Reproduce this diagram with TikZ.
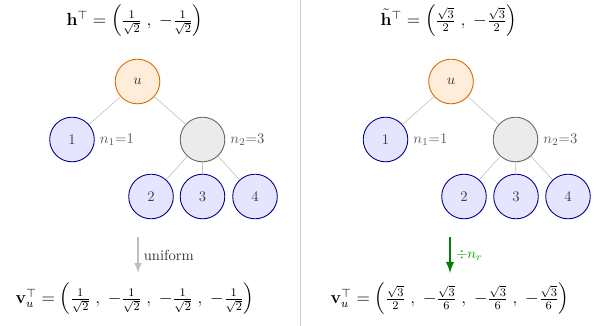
\documentclass[tikz,border=0pt]{standalone}
\usepackage{bm}
\usepackage{amsmath}
\usepackage{tikz}
\usetikzlibrary{arrows,shadows}

\tikzset{
  vroot/.style={draw=orange!85!black,fill=orange!15,circle,minimum size=30.5pt,inner sep=0pt,semithick,text=black!80,
    drop shadow={opacity=0.12,shadow xshift=0.6pt,shadow yshift=-0.6pt}},
  vleaf/.style={draw=blue!55!black,fill=blue!10,circle,minimum size=30.5pt,inner sep=0pt,semithick,text=black!75,
    drop shadow={opacity=0.12,shadow xshift=0.6pt,shadow yshift=-0.6pt}},
  vmid/.style={draw=black!60,fill=black!8,circle,minimum size=30.5pt,inner sep=0pt,semithick,
    drop shadow={opacity=0.12,shadow xshift=0.6pt,shadow yshift=-0.6pt}},
  tedge/.style={draw=black!25,thin},
  cnt/.style={text=black!65},
  formula/.style={font=\large,inner sep=1pt}
}

\begin{document}
\begin{tikzpicture}[x=0.684pt,y=-0.684pt]
  \useasboundingbox (0,0) rectangle (602,326);
  \draw[black!20] (300,0) -- (300,326);
  %% left half: uniform split
  \node[formula] at (135,21) (HL) {$\mathbf{h}^{\top}=\left(\frac{1}{\sqrt{2}}\;,\;-\frac{1}{\sqrt{2}}\right)$};
  \node[vroot] at (137.5,81.5) (UL) {$u$};
  \node[vleaf] at (72,139.5) (L1) {1};
  \node[vmid] at (202.5,139.5) (ML) {};
  \node[vleaf] at (151,196.5) (L2) {2};
  \node[vleaf] at (202.5,196.5) (L3) {3};
  \node[vleaf] at (255,196.5) (L4) {4};
  \node[cnt,right] at (L1.east) (NL1) {$n_1{=}1$};
  \node[cnt,right] at (ML.east) (NL2) {$n_2{=}3$};
  \draw[tedge] (UL) -- (L1);
  \draw[tedge] (UL) -- (ML);
  \draw[tedge] (ML) -- (L2);
  \draw[tedge] (ML) -- (L3);
  \draw[tedge] (ML) -- (L4);
  \coordinate (AL1) at (138,237);
  \coordinate (AL2) at (138,273);
  \draw[-latex,black!25,line width=1.3pt] (AL1) -- (AL2) node[midway,right,text=black!80]{uniform};
  \node[formula] at (135,299) (VL) {$\mathbf{v}_u^{\top}=\left(\frac{1}{\sqrt{2}}\;,\;-\frac{1}{\sqrt{2}}\;,\;-\frac{1}{\sqrt{2}}\;,\;-\frac{1}{\sqrt{2}}\right)$};
  %% right half: divide by n_r
  \node[formula] at (449,21) (HR) {$\tilde{\mathbf{h}}^{\top}=\left(\frac{\sqrt{3}}{2}\;,\;-\frac{\sqrt{3}}{2}\right)$};
  \node[vroot] at (451,81.5) (UR) {$u$};
  \node[vleaf] at (385.5,139.5) (R1) {1};
  \node[vmid] at (515.5,139.5) (MR) {};
  \node[vleaf] at (464,196.5) (R2) {2};
  \node[vleaf] at (516,196.5) (R3) {3};
  \node[vleaf] at (568,196.5) (R4) {4};
  \node[cnt,right] at (R1.east) (NR1) {$n_1{=}1$};
  \node[cnt,right] at (MR.east) (NR2) {$n_2{=}3$};
  \draw[tedge] (UR) -- (R1);
  \draw[tedge] (UR) -- (MR);
  \draw[tedge] (MR) -- (R2);
  \draw[tedge] (MR) -- (R3);
  \draw[tedge] (MR) -- (R4);
  \coordinate (AR1) at (450,237);
  \coordinate (AR2) at (450,273);
  \draw[-latex,green!50!black,line width=1.6pt] (AR1) -- (AR2) node[midway,right,text=green!65!black]{$\div n_r$};
  \node[formula] at (450,299) (VR) {$\mathbf{v}_u^{\top}=\left(\frac{\sqrt{3}}{2}\;,\;-\frac{\sqrt{3}}{6}\;,\;-\frac{\sqrt{3}}{6}\;,\;-\frac{\sqrt{3}}{6}\right)$};
\end{tikzpicture}
\end{document}
